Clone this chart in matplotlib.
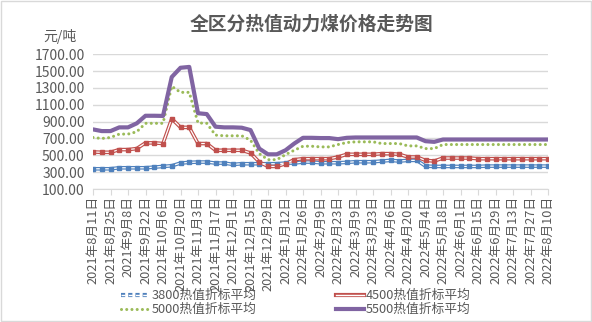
import pandas as pd
import matplotlib
matplotlib.use("Agg")
import matplotlib.pyplot as plt
from matplotlib.lines import Line2D
from matplotlib.patches import Rectangle
import matplotlib.patheffects as pe

plt.rcParams["font.family"] = ["Noto Sans CJK SC", "DejaVu Sans"]

# weekly dates, one point per week
dates = pd.date_range("2021-08-11", "2022-08-10", freq="7D")
date_labels = [f"{d.year}年{d.month}月{d.day}日" for d in dates]

avg_3800 = [340, 340, 340, 352, 352, 352, 352, 360, 368, 376, 408, 416, 420, 420,
            408, 408, 392, 400, 400, 400, 400, 400, 408, 408, 420, 420, 412, 412,
            412, 416, 424, 424, 424, 432, 440, 432, 440, 440, 372, 368, 368, 368,
            368, 368, 368, 372, 372, 372, 372, 372, 372, 372, 372]
avg_4500 = [540, 536, 536, 568, 568, 580, 648, 648, 640, 935, 832, 832, 640, 640,
            560, 560, 560, 560, 528, 420, 368, 368, 400, 448, 460, 460, 460, 460,
            480, 512, 512, 512, 512, 520, 520, 512, 480, 480, 440, 432, 468, 468,
            468, 468, 460, 460, 460, 460, 460, 460, 460, 460, 460]
avg_5000 = [712, 700, 712, 752, 752, 780, 880, 880, 880, 1320, 1248, 1248, 885, 880,
            740, 732, 732, 732, 680, 520, 448, 448, 508, 560, 608, 608, 600, 600,
            628, 652, 660, 660, 660, 640, 640, 640, 612, 612, 580, 580, 628, 628,
            628, 628, 628, 628, 628, 628, 628, 628, 628, 628, 628]
avg_5500 = [808, 788, 788, 832, 832, 880, 970, 970, 968, 1430, 1540, 1550, 1000, 990,
            840, 832, 832, 828, 800, 580, 512, 512, 560, 640, 708, 708, 705, 705,
            692, 708, 712, 712, 712, 712, 712, 712, 712, 712, 668, 660, 688, 688,
            688, 688, 688, 688, 688, 688, 688, 688, 688, 688, 688]

names = ["3800热值折标平均", "4500热值折标平均", "5000热值折标平均", "5500热值折标平均"]
blue, red, green, purple = "#4F81BD", "#C0504D", "#9BBB59", "#8064A2"
gray = "#595959"
dotted = (0, (0.01, 1.7))

fig = plt.figure(figsize=(5.92, 3.22), dpi=100)
ax = fig.add_axes([93 / 592, 1 - 189 / 322, 455 / 592, 134.7 / 322])

x = list(range(len(dates)))

# double lines with white core and small squares at each point
for vals, c in [(avg_3800, blue), (avg_4500, red)]:
    ax.plot(x, vals, color=c, lw=2.6, solid_joinstyle="round", zorder=3)
    ax.plot(x, vals, color="white", lw=0.9, solid_joinstyle="round", zorder=4)
    ax.plot(x, vals, ls="none", marker="s", ms=2.2, color=c, zorder=5)

ax.plot(x, avg_5000, color=green, lw=2.2, ls=dotted,
        dash_capstyle="round", zorder=3)
ax.plot(x, avg_5500, color=purple, lw=3, solid_joinstyle="round",
        solid_capstyle="round", zorder=6)

ax.set_xlim(0, len(dates) - 1)
ax.set_ylim(100, 1700)
ax.set_yticks(range(100, 1701, 200))
ax.set_yticklabels([f"{v:.2f}" for v in range(100, 1701, 200)], fontsize=10, color=gray)
ax.set_xticks(x[::2])
ax.set_xticklabels(date_labels[::2], rotation=90, fontsize=9.2, color=gray)
ax.tick_params(axis="y", length=0, pad=6)
ax.tick_params(axis="x", length=4, color="#D9D9D9", pad=1)
ax.grid(axis="y", color="#D9D9D9", lw=1)
ax.set_axisbelow(True)
for s in ["left", "right", "top"]:
    ax.spines[s].set_visible(False)
ax.spines["bottom"].set_color("#D9D9D9")

fig.text(312 / 592, 1 - 24 / 322, "全区分热值动力煤价格走势图", ha="center", va="center",
         fontsize=13.5, fontweight="bold", color=gray)
fig.text(43 / 592, 1 - 37 / 322, "元/吨", ha="left", va="center", fontsize=10, color=gray)

h3800 = Line2D([], [], color="white", lw=1, ls=(0, (3, 2.2)),
               path_effects=[pe.Stroke(linewidth=3, foreground=blue), pe.Normal()])
h4500 = Line2D([], [], color="white", lw=1,
               path_effects=[pe.Stroke(linewidth=3, foreground=red), pe.Normal()])
h5000 = Line2D([], [], color=green, lw=2.2, ls=dotted, dash_capstyle="round")
h5500 = Line2D([], [], color=purple, lw=3)
fig.legend([h3800, h5000, h4500, h5500], [names[0], names[2], names[1], names[3]],
           ncol=2, loc="upper left", bbox_to_anchor=(115 / 592, 1 - 283 / 322),
           frameon=False, fontsize=9.2, handlelength=2.2, handletextpad=0.15,
           columnspacing=6.2, labelspacing=0.05, borderpad=0, labelcolor=gray)

fig.add_artist(Rectangle((1 / 592, 1 / 322), 590 / 592, 320 / 322, transform=fig.transFigure,
                         fill=False, edgecolor="#D9D9D9", lw=1))

fig.savefig("out.png", dpi=100)
